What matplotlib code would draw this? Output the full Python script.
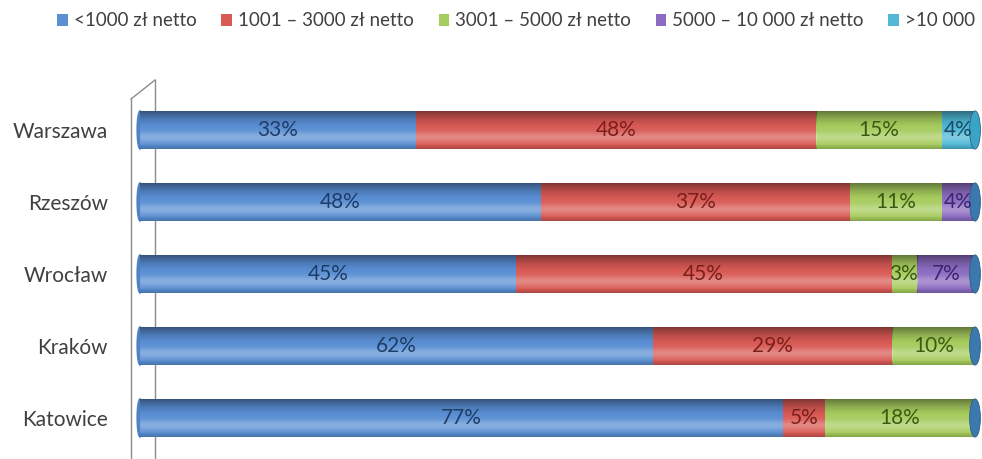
import numpy as np
import matplotlib.pyplot as plt
from matplotlib.patches import Patch, Ellipse
from matplotlib.lines import Line2D

plt.rcParams['font.family'] = ['Lato', 'DejaVu Sans']

# data (percent of respondents per income bracket)
cities = ["Katowice", "Kraków", "Wrocław", "Rzeszów", "Warszawa"]
brackets = ["<1000 zł netto", "1001 – 3000 zł netto", "3001 – 5000 zł netto",
            "5000 – 10 000 zł netto", ">10 000"]
below_1000 = [77, 62, 45, 48, 33]
from_1001 = [5, 29, 45, 37, 48]
from_3001 = [18, 10, 3, 11, 15]
from_5000 = [0, 0, 7, 4, 0]
above_10000 = [0, 0, 0, 0, 4]

series = np.array([below_1000, from_1001, from_3001, from_5000, above_10000], dtype=float)
shares = series / series.sum(axis=0) * 100  # 100% stacked

colors = ["#5a8fd4", "#d95a55", "#a7cc5e", "#8c6cc0", "#4fb8d6"]
text_colors = ["#1f3d66", "#7a1f1c", "#3d5a14", "#3b2470", "#1c4a63"]
cap_color = "#3b78ad"

fig = plt.figure(figsize=(9.82, 4.59), dpi=100)
ax = fig.add_axes([140 / 982, 5 / 459, 835 / 982, 360 / 459])

y = np.arange(len(cities))
h = 0.53

# gradient for cylinder shading
g = np.linspace(0, 1, 64)
shade = np.zeros((64, 1, 4))
dark = np.clip((g - 0.55) / 0.45, 0, 1) ** 1.5 * 0.45 + np.clip((0.12 - g) / 0.12, 0, 1) * 0.2
light = np.exp(-((g - 0.3) / 0.14) ** 2) * 0.28
shade[:, 0, :3] = np.where(light[:, None] > dark[:, None], 1.0, 0.0)
shade[:, 0, 3] = np.maximum(light, dark)

# left end cap
for yi in y:
    ax.add_patch(Ellipse((0, yi), 0.7, h, color="#4f82c4", zorder=1, clip_on=False))

left = np.zeros(len(cities))
for k in range(len(brackets)):
    bars = ax.barh(y, shares[k], left=left, height=h, color=colors[k], zorder=2)
    for i, b in enumerate(bars):
        if shares[k][i] <= 0:
            continue
        im = ax.imshow(shade, extent=[b.get_x(), b.get_x() + b.get_width(),
                                      b.get_y() + b.get_height(), b.get_y()],
                       aspect='auto', zorder=3, interpolation='bilinear')
        im.set_clip_path(b)
        ax.text(left[i] + shares[k][i] / 2, y[i], f"{series[k][i]:.0f}%",
                ha='center', va='center', fontsize=15, color=text_colors[k], zorder=5)
    left += shares[k]

# right end caps
for i, yi in enumerate(y):
    last = max(k for k in range(len(brackets)) if series[k][i] > 0)
    c = "#3aa4c4" if last == 4 else cap_color
    ax.add_patch(Ellipse((100, yi), 1.3, h, facecolor=c, edgecolor="#2f5f86", lw=0.6,
                         zorder=4, clip_on=False))

ax.set_xlim(0, 100)
ax.set_ylim(-0.5, len(cities) - 0.5)
ax.set_yticks(y)
ax.set_yticklabels(cities, fontsize=15, color="#404040")
ax.tick_params(axis='y', length=0, pad=23)
ax.set_xticks([])
for s in ax.spines.values():
    s.set_visible(False)
ax.patch.set_alpha(0)

# 3d side wall
wall = dict(color="#8c8c8c", lw=1.0, transform=fig.transFigure, zorder=0)
fig.add_artist(Line2D([131 / 982, 131 / 982], [1 - 99 / 459, 0], **wall))
fig.add_artist(Line2D([155 / 982, 155 / 982], [1 - 80 / 459, 0], **wall))
fig.add_artist(Line2D([131 / 982, 155 / 982], [1 - 99 / 459, 1 - 80 / 459], **wall))

handles = [Patch(facecolor=c) for c in colors]
fig.legend(handles, brackets, loc='center left', bbox_to_anchor=(48 / 982, 1 - 21 / 459), ncol=5,
           frameon=False, fontsize=13.5, handlelength=0.55, handleheight=0.55,
           handletextpad=0.35, columnspacing=1.3, labelcolor="#404040", borderpad=0)

fig.savefig("out.png", dpi=100)
